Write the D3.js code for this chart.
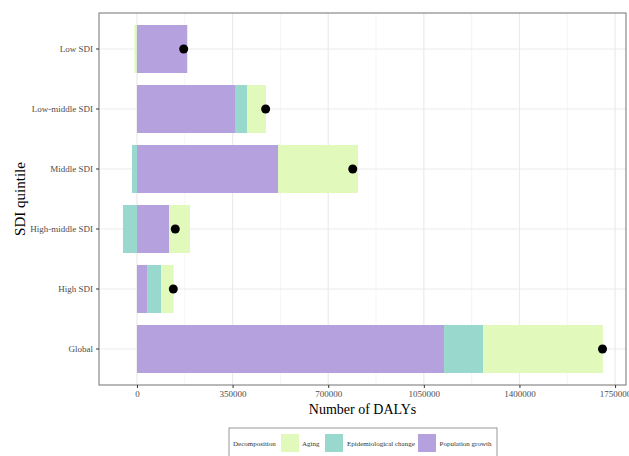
<!DOCTYPE html>
<html lang="en">
<head>
<meta charset="utf-8">
<title>DALYs decomposition by SDI quintile</title>
<script src="https://cdn.jsdelivr.net/npm/d3@7"></script>
<style>
  body { margin: 0; background: #fff; }
  text { font-family: "Liberation Serif", "DejaVu Serif", serif; }
</style>
</head>
<body>
<script>
// data
var regions = ["Low SDI", "Low-middle SDI", "Middle SDI", "High-middle SDI", "High SDI", "Global"];
var popGrowth = [184000, 358800, 516300, 117200, 39200, 1124100];
var epiChange = [-1500, 43900, -18300, -51300, 49800, 142800];
var aging = [-8000, 69600, 292900, 76900, 45400, 438300];
var totals = [171000, 471000, 789800, 140200, 133000, 1704000];
var xTicks = [0, 350000, 700000, 1050000, 1400000, 1750000];

var factors = ["Population growth", "Epidemiological change", "Aging"];
var values = [popGrowth, epiChange, aging];
var colors = { "Aging": "#E1FABB", "Epidemiological change": "#99D8CC", "Population growth": "#B5A1DD" };

var width = 629, height = 456;
var panel = { left: 99, right: 626, top: 13, bottom: 385 };

var svg = d3.select("body").append("svg")
    .attr("width", width).attr("height", height);

var x = d3.scaleLinear().domain([-139000, 1790000]).range([panel.left, panel.right]);
var y = d3.scaleBand().domain(regions).range([panel.top, panel.bottom]).paddingInner(0.2).paddingOuter(0.2);

// grid
var minor = d3.range(175000, 1750001, 350000);
svg.selectAll("line.minor").data(minor).enter().append("line")
    .attr("x1", d => x(d)).attr("x2", d => x(d))
    .attr("y1", panel.top).attr("y2", panel.bottom)
    .attr("stroke", "#F2F2F2").attr("stroke-width", 0.8);
svg.selectAll("line.major").data(xTicks).enter().append("line")
    .attr("x1", d => x(d)).attr("x2", d => x(d))
    .attr("y1", panel.top).attr("y2", panel.bottom)
    .attr("stroke", "#EBEBEB").attr("stroke-width", 1.2);
svg.selectAll("line.ygrid").data(regions).enter().append("line")
    .attr("x1", panel.left).attr("x2", panel.right)
    .attr("y1", d => y(d) + y.bandwidth() / 2).attr("y2", d => y(d) + y.bandwidth() / 2)
    .attr("stroke", "#EBEBEB").attr("stroke-width", 1.2);

// stacked bars, positives and negatives stacked apart
regions.forEach(function(r, i) {
    var pos = 0, neg = 0;
    factors.forEach(function(f, j) {
        var v = values[j][i];
        var x0, x1;
        if (v >= 0) { x0 = pos; x1 = pos + v; pos = x1; }
        else { x0 = neg + v; x1 = neg; neg = x0; }
        svg.append("rect")
            .attr("x", x(x0)).attr("width", x(x1) - x(x0))
            .attr("y", y(r)).attr("height", y.bandwidth())
            .attr("fill", colors[f]);
    });
});

// totals
svg.selectAll("circle").data(regions).enter().append("circle")
    .attr("cx", (d, i) => x(totals[i]))
    .attr("cy", d => y(d) + y.bandwidth() / 2)
    .attr("r", 4.5).attr("fill", "#000");

// panel border
svg.append("rect")
    .attr("x", panel.left).attr("y", panel.top)
    .attr("width", panel.right - panel.left).attr("height", panel.bottom - panel.top)
    .attr("fill", "none").attr("stroke", "#7F7F7F").attr("stroke-width", 1.1);

// axes
var xAxis = svg.append("g").attr("transform", "translate(0," + panel.bottom + ")")
    .call(d3.axisBottom(x).tickValues(xTicks).tickSize(3).tickPadding(3).tickFormat(d3.format("d")));
var yAxis = svg.append("g").attr("transform", "translate(" + panel.left + ",0)")
    .call(d3.axisLeft(y).tickSize(3).tickPadding(3));
[xAxis, yAxis].forEach(function(a) {
    a.select(".domain").remove();
    a.selectAll(".tick line").attr("stroke", "#333").attr("stroke-width", 1);
    a.selectAll(".tick text").attr("fill", "#4D4D4D").style("font-size", "9px")
        .style("font-family", "'Liberation Serif', serif");
});

// titles
svg.append("text").attr("x", (panel.left + panel.right) / 2).attr("y", 414)
    .attr("text-anchor", "middle").style("font-size", "14px").text("Number of DALYs");
svg.append("text").attr("transform", "translate(25," + (panel.top + panel.bottom) / 2 + ") rotate(-90)")
    .attr("text-anchor", "middle").style("font-size", "15px").text("SDI quintile");

// legend
var lg = svg.append("g");
lg.append("rect").attr("x", 229).attr("y", 428).attr("width", 268).attr("height", 40)
    .attr("fill", "#fff").attr("stroke", "#7F7F7F").attr("stroke-width", 0.8);
lg.append("text").attr("x", 233).attr("y", 445.5).style("font-size", "7px").attr("fill", "#333").text("Decomposition");
var legendItems = [
    { name: "Aging", kx: 281, tx: 302 },
    { name: "Epidemiological change", kx: 325, tx: 347 },
    { name: "Population growth", kx: 418, tx: 439.5 }
];
legendItems.forEach(function(it) {
    lg.append("rect").attr("x", it.kx).attr("y", 434).attr("width", 18).attr("height", 18)
        .attr("fill", colors[it.name]);
    lg.append("text").attr("x", it.tx).attr("y", 445.5).style("font-size", "7px").attr("fill", "#333").text(it.name);
});
</script>
</body>
</html>
